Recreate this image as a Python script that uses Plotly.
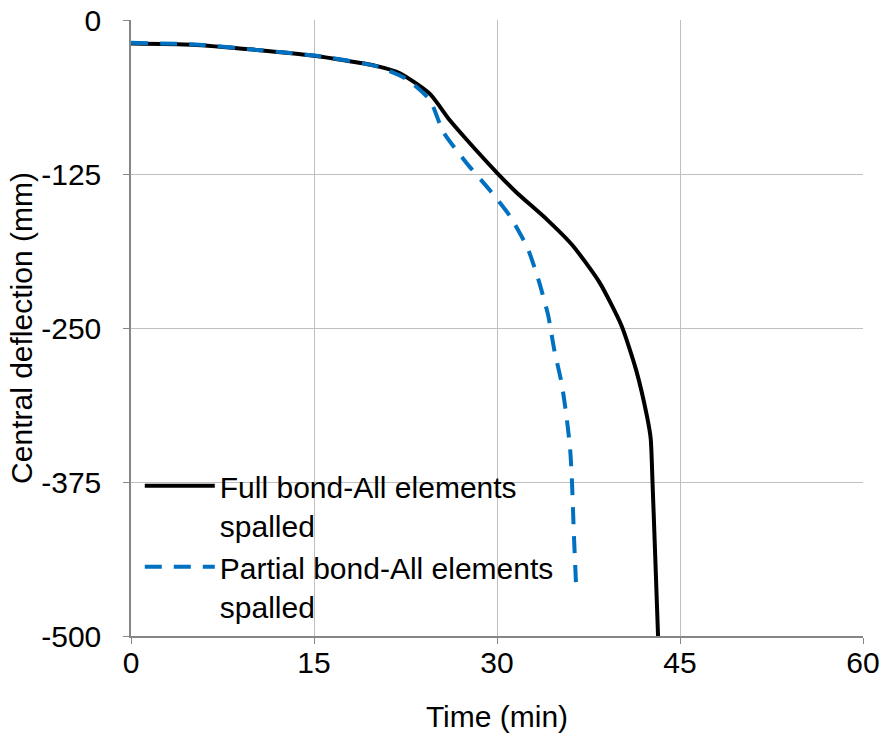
import plotly.graph_objects as go

full_t = [0, 5, 10, 15, 20, 22, 24.5, 26.1, 27.5, 30.0, 31.6, 34.1, 36.2, 38.4, 40.2, 41.4, 42.3, 42.6, 42.75, 42.95, 43.2]
full_d = [-19, -20, -24, -29, -37, -43, -60, -81, -97, -124, -140, -162, -183, -213, -248, -284, -322, -340, -376, -430, -500]

part_t = [0, 5.6, 10, 15.2, 20.1, 22.6, 24.5, 25.6, 27.5, 29.4, 31.05, 32.5, 33.4, 34.2, 34.7, 35.3, 35.7, 36.0, 36.15, 36.3, 36.5]
part_d = [-18.5, -20, -24, -29, -37.5, -48, -65, -91, -116, -138, -159, -185, -211, -240, -268, -295, -322, -349, -376, -417, -463]

x_ticks = [0, 15, 30, 45, 60]
x_labels = ["0", "15", "30", "45", "60"]
y_ticks = [0, -125, -250, -375, -500]
y_labels = ["0", "-125", "-250", "-375", "-500"]

font = dict(family="Liberation Sans, Arial, sans-serif", size=30, color="#000000")

fig = go.Figure()
fig.add_trace(go.Scatter(x=full_t, y=full_d, mode="lines",
                         line=dict(color="#000000", width=4, shape="spline", smoothing=0.6),
                         name="Full bond-All elements<br>spalled"))
fig.add_trace(go.Scatter(x=part_t, y=part_d, mode="lines",
                         line=dict(color="#0070C0", width=4, dash="17px,12px", shape="spline", smoothing=0.6),
                         name="Partial bond-All elements<br>spalled"))

fig.update_layout(
    width=883, height=738,
    margin=dict(l=131, r=20, t=20, b=102),
    plot_bgcolor="white", paper_bgcolor="white",
    font=font,
    showlegend=True,
    legend=dict(x=0.012, y=0.286, xanchor="left", yanchor="top", bgcolor="rgba(255,255,255,0)",
                font=font, itemwidth=70, tracegroupgap=0, valign="top"),
)
fig.update_xaxes(range=[0, 60], tickvals=x_ticks, ticktext=x_labels, showgrid=True, gridcolor="#BFBFBF", gridwidth=1,
                 showline=True, linecolor="#868686", linewidth=1.5, ticks="outside", ticklen=6, tickcolor="#868686",
                 title=dict(text="Time (min)", font=font, standoff=28), zeroline=False, tickfont=font,
                 ticklabelstandoff=-7, automargin=False)
fig.update_yaxes(range=[-500, 0], tickvals=y_ticks, ticktext=y_labels, showgrid=True, gridcolor="#BFBFBF", gridwidth=1,
                 showline=True, linecolor="#868686", linewidth=1.5, ticks="outside", ticklen=6, tickcolor="#868686",
                 title=dict(text="Central deflection (mm)", font=font, standoff=0), zeroline=False, tickfont=font,
                 ticklabelstandoff=16, automargin=False)

fig.write_html("out.html")
